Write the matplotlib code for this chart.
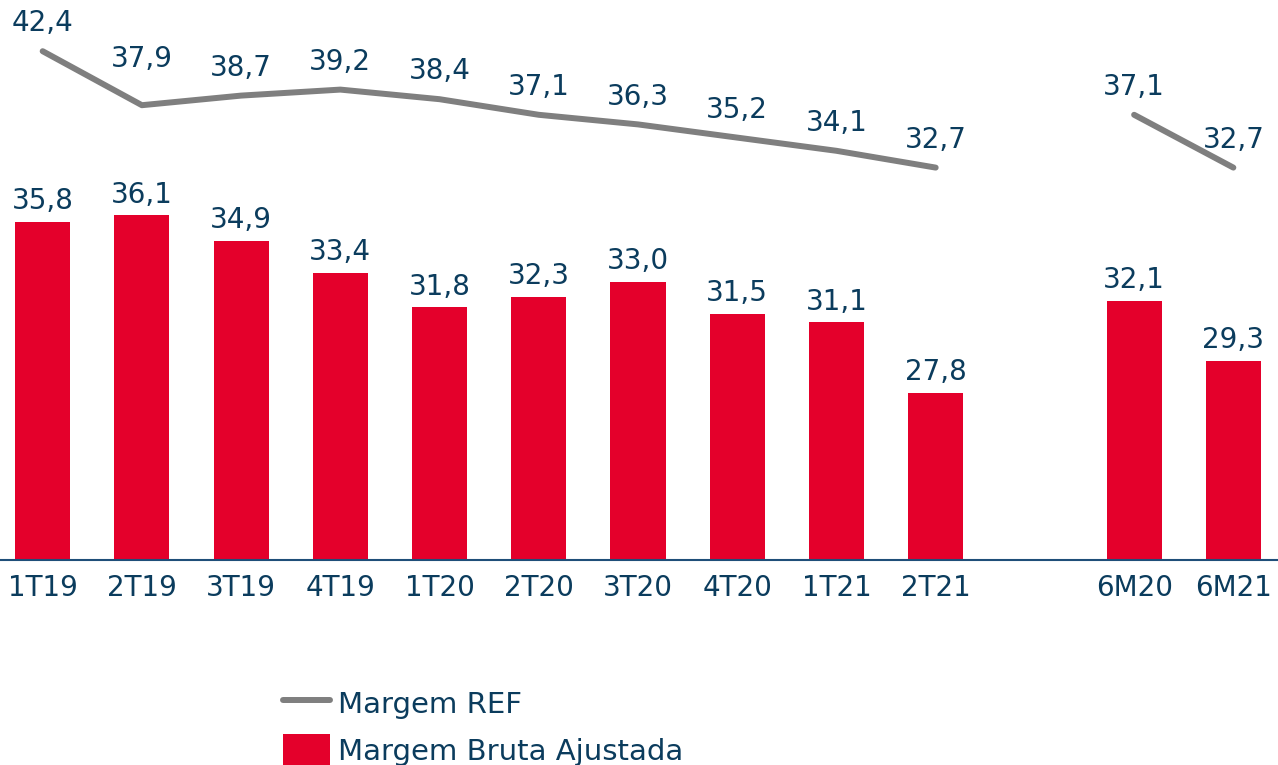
import matplotlib
matplotlib.use("Agg")
import matplotlib.pyplot as plt
import numpy as np

categories = ["1T19", "2T19", "3T19", "4T19", "1T20", "2T20", "3T20", "4T20", "1T21", "2T21", "6M20", "6M21"]
positions = [0, 1, 2, 3, 4, 5, 6, 7, 8, 9, 11, 12]
margem_bruta = [35.8, 36.1, 34.9, 33.4, 31.8, 32.3, 33.0, 31.5, 31.1, 27.8, 32.1, 29.3]
margem_ref_q = [42.4, 37.9, 38.7, 39.2, 38.4, 37.1, 36.3, 35.2, 34.1, 32.7]
margem_ref_m = [37.1, 32.7]

RED = "#E4002B"
NAVY = "#0B3C5D"
GREY = "#7F7F7F"
FS = 20
LFS = 21

plt.rcParams['font.family'] = ['DejaVu Sans']

fig = plt.figure(figsize=(12.78, 7.65), dpi=100)
base_px = 560
ax = fig.add_axes([0, (765 - base_px) / 765, 1, base_px / 765])
ax.set_xlim(-0.43, 12.45)
ax.set_ylim(20, 20 + base_px / 21.4)

bars = ax.bar(positions, margem_bruta, width=0.555, color=RED, zorder=2,
              label="Margem Bruta Ajustada")
for x, v in zip(positions, margem_bruta):
    ax.annotate(f"{v:.1f}".replace(".", ","), (x, v), xytext=(0, 15),
                textcoords="offset points", ha="center", va="center",
                fontsize=FS, color=NAVY)

ax2 = ax.twinx()
ax2.set_ylim(0, base_px / 12.0)
q_pos = positions[:10]
m_pos = positions[10:]
ln, = ax2.plot(q_pos, margem_ref_q, color=GREY, lw=4.3, solid_capstyle="round",
               label="Margem REF")
ax2.plot(m_pos, margem_ref_m, color=GREY, lw=4.3, solid_capstyle="round")
offsets = {1: 33}
for i, (x, v) in enumerate(zip(q_pos + m_pos, margem_ref_q + margem_ref_m)):
    off = offsets.get(i, 20)
    ax2.annotate(f"{v:.1f}".replace(".", ","), (x, v), xytext=(0, off),
                 textcoords="offset points", ha="center", va="center",
                 fontsize=FS, color=NAVY)

for a in (ax, ax2):
    for s in ["top", "left", "right"]:
        a.spines[s].set_visible(False)
    a.set_yticks([])
ax2.spines["bottom"].set_visible(False)
ax.spines["bottom"].set_color("#1F4E79")
ax.spines["bottom"].set_linewidth(1.5)

ax.set_xticks(positions)
ax.set_xticklabels(categories, fontsize=FS, color=NAVY)
ax.tick_params(axis="x", length=0, pad=10)

fig.legend([ln, bars], ["Margem REF", "Margem Bruta Ajustada"],
           loc="upper left", bbox_to_anchor=(283 / 1278, (765 - 687) / 765),
           frameon=False, fontsize=LFS, labelcolor=NAVY, borderpad=0,
           borderaxespad=0, handlelength=1.6, handleheight=1.36,
           handletextpad=0.3, labelspacing=0.48)

fig.savefig("out.png", dpi=100)
